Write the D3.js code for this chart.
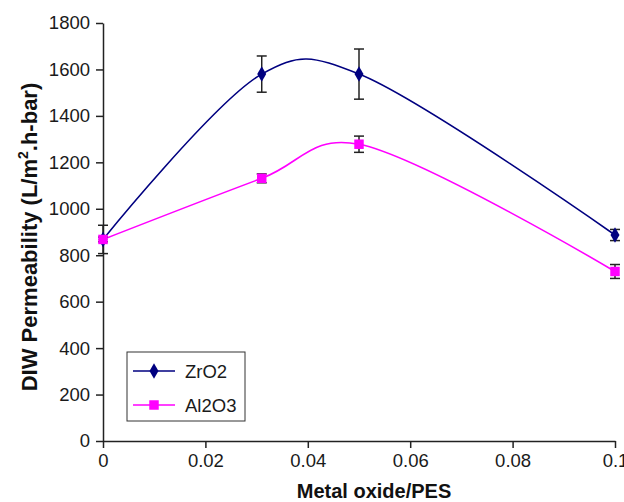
<!DOCTYPE html>
<html>
<head>
<meta charset="utf-8">
<script src="https://cdn.jsdelivr.net/npm/d3@7"></script>
<style>
  html, body { margin: 0; padding: 0; background: #fff; }
  svg { display: block; font-family: "Liberation Sans", Arial, sans-serif; }
</style>
</head>
<body>
<svg id="chart" width="624" height="502"></svg>
<script>
const ratios = [0, 0.031, 0.05, 0.1];
const zro2 = [868, 1580, 1580, 887];
const zro2Err = [61, 78, 108, 24];
const al2o3 = [868, 1131, 1278, 730];
const al2o3Err = [10, 19, 35, 30];
const xTicks = [0, 0.02, 0.04, 0.06, 0.08, 0.1];
const yTicks = [0, 200, 400, 600, 800, 1000, 1200, 1400, 1600, 1800];

const series = [
  { name: "ZrO2", values: zro2, errors: zro2Err, color: "#000080", symbol: d3.symbolDiamond },
  { name: "Al2O3", values: al2o3, errors: al2o3Err, color: "#ff00ff", symbol: d3.symbolSquare },
];

const margin = { top: 23, right: 9, bottom: 61, left: 103 };
const width = 624 - margin.left - margin.right;
const height = 502 - margin.top - margin.bottom;

const svg = d3.select("#chart");
const g = svg.append("g").attr("transform", `translate(${margin.left},${margin.top})`);

const x = d3.scaleLinear().domain([0, 0.1]).range([0, width]);
const y = d3.scaleLinear().domain([0, 1800]).range([height, 0]);

const xAxis = g.append("g")
  .attr("transform", `translate(0,${height})`)
  .call(d3.axisBottom(x).tickValues(xTicks).tickSize(7).tickPadding(6).tickSizeOuter(0)
    .tickFormat((d) => (d === 0 ? "0" : d3.format("~g")(d))));

const yAxis = g.append("g")
  .call(d3.axisLeft(y).tickValues(yTicks).tickSize(7).tickPadding(6).tickSizeOuter(0)
    .tickFormat(d3.format("d")));

[xAxis, yAxis].forEach((ax) => {
  ax.select(".domain").attr("stroke", "#222").attr("stroke-width", 1.5);
  ax.selectAll(".tick line").attr("stroke", "#222").attr("stroke-width", 1.5);
  ax.selectAll(".tick text")
    .attr("fill", "#1a1a1a")
    .style("font-size", "18.5px")
    .style("font-family", "'Liberation Sans', Arial, sans-serif");
});

const line = d3.line()
  .x((d, i) => x(ratios[i]))
  .y((d) => y(d))
  .curve(d3.curveCatmullRom.alpha(0.2));

series.forEach((s) => {
  g.append("path")
    .datum(s.values)
    .attr("fill", "none")
    .attr("stroke", s.color)
    .attr("stroke-width", 1.6)
    .attr("d", line);
});

series.forEach((s) => {
  const bars = g.append("g").attr("stroke", "#222").attr("stroke-width", 1.5);
  s.values.forEach((v, i) => {
    const cx = x(ratios[i]);
    const top = y(v + s.errors[i]);
    const bottom = y(v - s.errors[i]);
    bars.append("line").attr("x1", cx).attr("x2", cx).attr("y1", top).attr("y2", bottom);
    bars.append("line").attr("x1", cx - 5).attr("x2", cx + 5).attr("y1", top).attr("y2", top);
    bars.append("line").attr("x1", cx - 5).attr("x2", cx + 5).attr("y1", bottom).attr("y2", bottom);
  });
});

series.forEach((s) => {
  g.selectAll(null)
    .data(s.values)
    .enter()
    .append("path")
    .attr("transform", (d, i) => `translate(${x(ratios[i])},${y(d)})`)
    .attr("d", d3.symbol().type(s.symbol).size(s.symbol === d3.symbolSquare ? 90 : 70))
    .attr("fill", s.color);
});

// axis titles
svg.append("text")
  .attr("x", 374)
  .attr("y", 498)
  .attr("text-anchor", "middle")
  .attr("font-weight", "bold")
  .attr("font-size", 20)
  .attr("fill", "#111")
  .text("Metal oxide/PES");

const yTitle = svg.append("text")
  .attr("transform", "translate(36.5,237) rotate(-90)")
  .attr("text-anchor", "middle")
  .attr("font-weight", "bold")
  .attr("font-size", 22)
  .attr("fill", "#111");
yTitle.append("tspan").text("DIW Permeability (L/m");
yTitle.append("tspan").attr("dy", -9).attr("font-size", 14).text("2");
yTitle.append("tspan").attr("dy", 9).text(".h-bar)");

// legend
const legend = svg.append("g").attr("transform", "translate(127,352)");
legend.append("rect")
  .attr("width", 118)
  .attr("height", 69)
  .attr("fill", "#fff")
  .attr("stroke", "#333")
  .attr("stroke-width", 1);

series.forEach((s, i) => {
  const ly = 19 + i * 34;
  legend.append("line")
    .attr("x1", 6).attr("x2", 48).attr("y1", ly).attr("y2", ly)
    .attr("stroke", s.color).attr("stroke-width", 1.4);
  legend.append("path")
    .attr("transform", `translate(27,${ly})`)
    .attr("d", d3.symbol().type(s.symbol).size(s.symbol === d3.symbolSquare ? 90 : 70))
    .attr("fill", s.color);
  legend.append("text")
    .attr("x", 58)
    .attr("y", ly + 7)
    .attr("font-size", 18.5)
    .attr("fill", "#1a1a1a")
    .text(s.name);
});
</script>
</body>
</html>
